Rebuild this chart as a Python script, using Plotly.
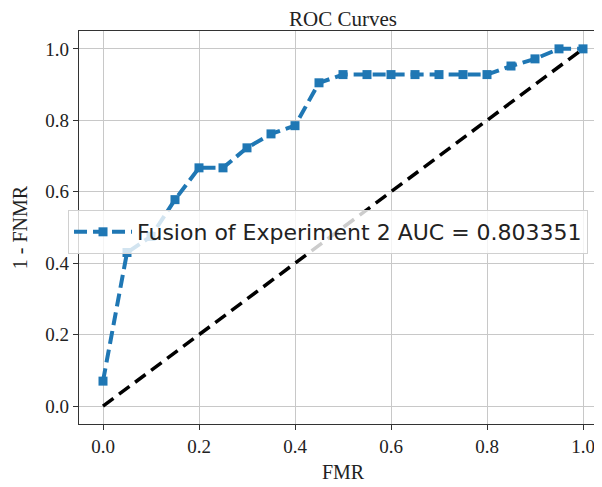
import plotly.graph_objects as go

fmr = [0.0, 0.05, 0.10, 0.15, 0.20, 0.25, 0.30, 0.35, 0.40, 0.45, 0.50,
       0.55, 0.60, 0.65, 0.70, 0.75, 0.80, 0.85, 0.90, 0.95, 1.0]
tpr = [0.07, 0.43, 0.475, 0.578, 0.667, 0.667, 0.723, 0.762, 0.785, 0.905, 0.928,
       0.928, 0.928, 0.928, 0.928, 0.928, 0.928, 0.952, 0.972, 1.0, 1.0]
diag_x = [0.0, 1.0]
diag_y = [0.0, 1.0]
series_name = "Fusion of Experiment 2 AUC = 0.803351"
ticks = [0.0, 0.2, 0.4, 0.6, 0.8, 1.0]
tick_text = ["0.0", "0.2", "0.4", "0.6", "0.8", "1.0"]

fig = go.Figure()
fig.add_trace(go.Scatter(x=fmr, y=tpr, mode="lines+markers", name=series_name,
                         line=dict(color="#1f77b4", width=4, dash="13px,6px"),
                         marker=dict(symbol="square", size=9, color="#1f77b4")))
fig.add_trace(go.Scatter(x=diag_x, y=diag_y, mode="lines", showlegend=False,
                         line=dict(color="black", width=3.5, dash="13px,7px")))

serif = "Liberation Serif, Times New Roman, serif"
axis_common = dict(showgrid=True, gridcolor="#c8c8c8", gridwidth=1,
                   zeroline=False, showline=True, linecolor="#333", linewidth=1.2,
                   ticks="outside", ticklen=5, tickcolor="#333",
                   tickfont=dict(family=serif, size=19, color="#222"),
                   tickvals=ticks, ticktext=tick_text)

fig.update_layout(
    width=602, height=487,
    margin=dict(l=71, r=3, t=23, b=71),
    paper_bgcolor="white", plot_bgcolor="white",
    title=dict(text="ROC Curves", x=(71 + 599) / 2 / 602, xanchor="center",
               y=0.979, yanchor="middle",
               font=dict(family=serif, size=21, color="#222")),
    xaxis=dict(range=[-0.05, 1.05], mirror=True,
               title=dict(text="FMR", font=dict(family=serif, size=20, color="#222"), standoff=9),
               **axis_common),
    yaxis=dict(range=[-0.05, 1.05], mirror=False,
               title=dict(text="1 - FNMR", font=dict(family=serif, size=20, color="#222"), standoff=12),
               **axis_common),
    legend=dict(x=-0.0208, y=0.5445, xanchor="left", yanchor="top",
                bgcolor="rgba(255,255,255,0.8)", bordercolor="#d0d0d0", borderwidth=1,
                font=dict(family="DejaVu Sans", size=22, color="#222"),
                itemwidth=58),
    showlegend=True,
)

fig.write_html("out.html")
